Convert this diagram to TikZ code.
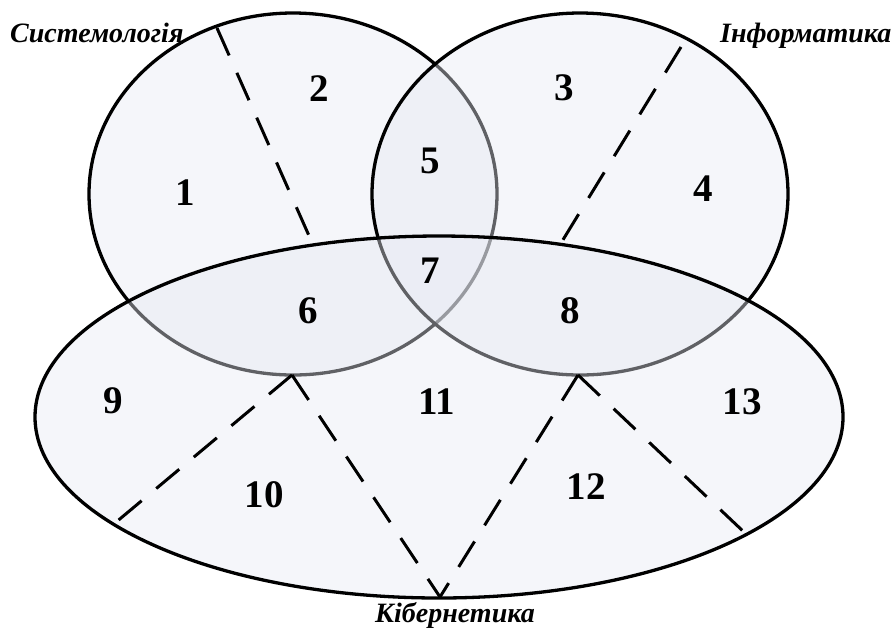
\documentclass[tikz,border=0pt]{standalone}
\usepackage{fontspec}
\setmainfont{Liberation Serif}
\usetikzlibrary{positioning}
\definecolor{vennfill}{RGB}{230,233,242}

\begin{document}
\begin{tikzpicture}[
		x=1pt, y=-1pt,
		set/.style={
			draw=black,
			line width=3.3pt,
			fill=vennfill,
			fill opacity=0.42
		},
		part/.style={
			draw,
			line width=3pt,
			dash pattern=on 30pt off 19pt
		},
		num/.style={
			font=\fontsize{39}{42}\selectfont\bfseries,
			inner sep=0pt
		},
		setname/.style={
			font=\fontsize{28}{30}\selectfont\bfseries\itshape,
			inner sep=0pt
		}
		]
		
		\useasboundingbox (0,0) rectangle (893,633);
		
		% the three sets
		\draw[set] (293,194) ellipse [x radius=204pt, y radius=181pt];
		\draw[set] (580,194) ellipse [x radius=208pt, y radius=181pt];
		\draw[set] (439,417) ellipse [x radius=404pt, y radius=181pt];
		
		% dividing lines
		\coordinate (sa) at (217,28);
		\coordinate (sb) at (310,238);
		\coordinate (ia) at (681,47);
		\coordinate (ib) at (561,243);
		\coordinate (kl) at (115,523);
		\coordinate (ktl) at (292,375);
		\coordinate (kb) at (440,597);
		\coordinate (ktr) at (578,375);
		\coordinate (kr) at (745,533);
		
		\draw[part] (sa)--(sb);
		\draw[part] (ia)--(ib);
		\draw[part] (ktl)--(kl);
		\draw[part] (ktl)--(kb);
		\draw[part] (ktr)--(kb);
		\draw[part] (ktr)--(kr);
		
		% region numbers
		\node[num] (r1) at (185,193) {1};
		\node[num] (r2) at (319,89) {2};
		\node[num] (r3) at (564,88) {3};
		\node[num] (r4) at (703,189) {4};
		\node[num] (r5) at (430,161) {5};
		\node[num] (r6) at (308,311) {6};
		\node[num] (r7) at (430,271) {7};
		\node[num] (r8) at (570,311) {8};
		\node[num] (r9) at (113,401) {9};
		\node[num] (r10) at (264,495) {10};
		\node[num] (r11) at (437,402) {11};
		\node[num] (r12) at (586,487) {12};
		\node[num] (r13) at (742,402) {13};
		
		% set names
		\node[setname, anchor=base west] (sys) at (10,42) {Системологія};
		\node[setname, anchor=base west] (inf) at (720,42) {Інформатика};
		\node[setname, anchor=base] (kib) at (455,622) {Кібернетика};
		
	\end{tikzpicture}
\end{document}
